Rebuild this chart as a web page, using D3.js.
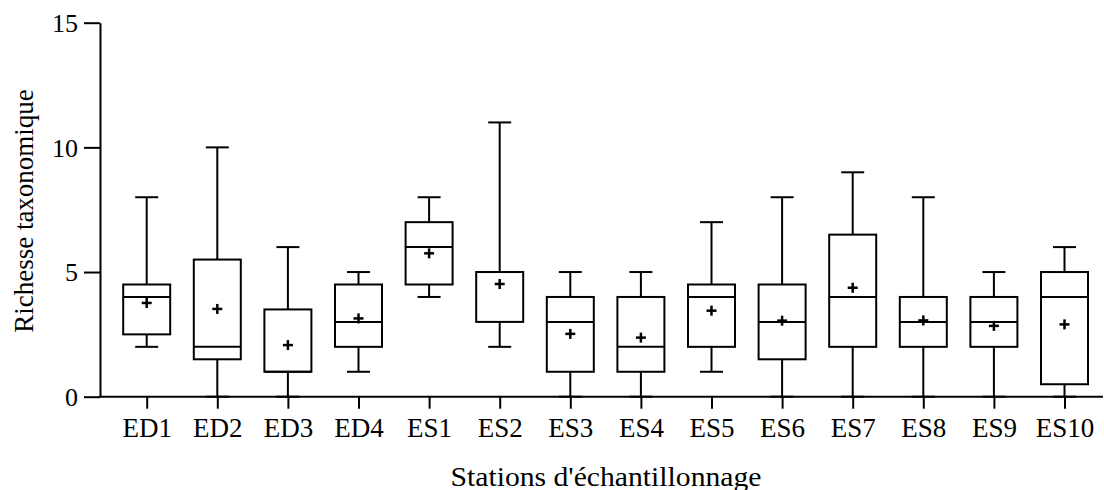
<!DOCTYPE html>
<html>
<head>
<meta charset="utf-8">
<script src="https://cdn.jsdelivr.net/npm/d3@7"></script>
<style>
  html, body { margin: 0; padding: 0; background: #fff; }
  svg { display: block; }
</style>
</head>
<body>
<svg id="chart" width="1104" height="490"></svg>
<script>
// ---- Data ----
const categories = ["ED1","ED2","ED3","ED4","ES1","ES2","ES3","ES4","ES5","ES6","ES7","ES8","ES9","ES10"];
const whiskerLow  = [2, 0, 0, 1, 4, 2, 0, 0, 1, 0, 0, 0, 0, 0];
const q1          = [2.5, 1.5, 1, 2, 4.5, 3, 1, 1, 2, 1.5, 2, 2, 2, 0.5];
const medians     = [4, 2, 1, 3, 6, 5, 3, 2, 4, 3, 4, 3, 3, 4];
const q3          = [4.5, 5.5, 3.5, 4.5, 7, 5, 4, 4, 4.5, 4.5, 6.5, 4, 4, 5];
const whiskerHigh = [8, 10, 6, 5, 8, 11, 5, 5, 7, 8, 9, 8, 5, 6];
const means       = [3.76, 3.52, 2.07, 3.14, 5.75, 4.52, 2.52, 2.37, 3.45, 3.05, 4.37, 3.06, 2.84, 2.9];
const yTicks      = [0, 5, 10, 15];
const xTitle = "Stations d'échantillonnage";
const yTitle = "Richesse taxonomique";

const data = categories.map((c, i) => ({
  cat: c, lo: whiskerLow[i], q1: q1[i], med: medians[i], q3: q3[i], hi: whiskerHigh[i], mean: means[i]
}));

const FONT = "'Liberation Serif'";

// ---- Layout ----
const svg = d3.select("#chart");
const axisX0 = 100, axisX1 = 1103;
const y = d3.scaleLinear().domain([0, 15]).range([396.7, 22.7]);
const x = d3.scalePoint().domain(categories).range([146.7, 1064.5]);
const boxW = 47, capW = 23, plus = 5;
const sw = 2;

// Y axis
const yAxis = svg.append("g")
  .attr("transform", `translate(${axisX0},0)`)
  .call(d3.axisLeft(y).tickValues(yTicks).tickSize(16).tickSizeOuter(0).tickPadding(6));
yAxis.attr("font-family", null).attr("font-size", null);
yAxis.select(".domain").attr("stroke-width", sw);
yAxis.selectAll(".tick line").attr("stroke-width", sw);
yAxis.selectAll(".tick text").style("font-family", FONT).style("font-size", "26px").attr("dy", "0.34em");

// X axis
const xAxis = svg.append("g")
  .attr("transform", `translate(0,${y(0)})`)
  .call(d3.axisBottom(x).tickSize(12).tickSizeOuter(0).tickPadding(9));
xAxis.attr("font-family", null).attr("font-size", null);
xAxis.select(".domain").remove();
xAxis.selectAll(".tick line").attr("stroke-width", sw);
xAxis.selectAll(".tick text").style("font-family", FONT).style("font-size", "27px");
svg.append("line")
  .attr("x1", axisX0 - 1).attr("x2", axisX1)
  .attr("y1", y(0)).attr("y2", y(0))
  .attr("stroke", "#000").attr("stroke-width", sw);

// Boxes
const g = svg.append("g").attr("stroke", "#000").attr("stroke-width", sw).attr("fill", "none");
const bx = g.selectAll("g.box").data(data).join("g").attr("class", "box")
  .attr("transform", d => `translate(${x(d.cat)},0)`);

// whiskers
bx.append("line").attr("x1", 0).attr("x2", 0).attr("y1", d => y(d.q3)).attr("y2", d => y(d.hi));
bx.append("line").attr("x1", 0).attr("x2", 0).attr("y1", d => y(d.q1)).attr("y2", d => y(d.lo));
bx.append("line").attr("x1", -capW/2).attr("x2", capW/2).attr("y1", d => y(d.hi)).attr("y2", d => y(d.hi));
bx.append("line").attr("x1", -capW/2).attr("x2", capW/2).attr("y1", d => y(d.lo)).attr("y2", d => y(d.lo));
// box
bx.append("rect").attr("x", -boxW/2).attr("width", boxW)
  .attr("y", d => y(d.q3)).attr("height", d => y(d.q1) - y(d.q3)).attr("fill", "#fff");
// median
bx.append("line").attr("x1", -boxW/2).attr("x2", boxW/2).attr("y1", d => y(d.med)).attr("y2", d => y(d.med));
// mean plus
bx.append("line").attr("x1", -plus).attr("x2", plus).attr("y1", d => y(d.mean)).attr("y2", d => y(d.mean)).attr("stroke-width", 2.5);
bx.append("line").attr("x1", 0).attr("x2", 0).attr("y1", d => y(d.mean) - plus).attr("y2", d => y(d.mean) + plus).attr("stroke-width", 2.5);

// Titles
svg.append("text")
  .attr("x", 606).attr("y", 485.5)
  .attr("text-anchor", "middle")
  .attr("textLength", 311)
  .attr("lengthAdjust", "spacingAndGlyphs")
  .style("font-family", FONT)
  .style("font-size", "27px")
  .text(xTitle);

svg.append("text")
  .attr("transform", `translate(33,211) rotate(-90)`)
  .attr("text-anchor", "middle")
  .style("font-family", FONT)
  .style("font-size", "27px")
  .text(yTitle);
</script>
</body>
</html>
